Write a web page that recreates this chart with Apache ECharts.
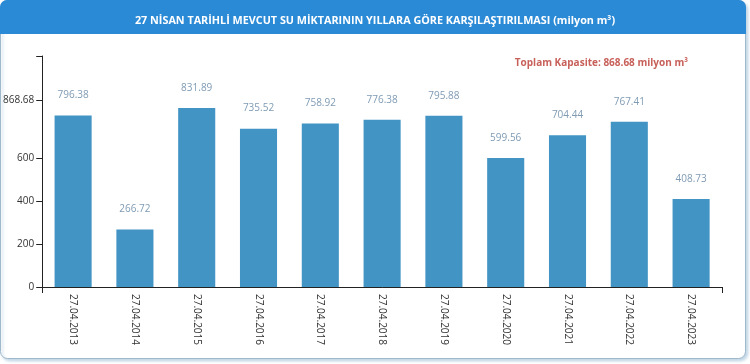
<!DOCTYPE html>
<html><head><meta charset="utf-8">
<script src="https://cdn.jsdelivr.net/npm/echarts@6/dist/echarts.min.js"></script>
<style>html,body{margin:0;padding:0;background:#fff;}#c{width:750px;height:364px;}</style>
</head><body><div id="c"></div>
<script>
const categories = ['27.04.2013','27.04.2014','27.04.2015','27.04.2016','27.04.2017','27.04.2018','27.04.2019','27.04.2020','27.04.2021','27.04.2022','27.04.2023'];
const values = [796.38, 266.72, 831.89, 735.52, 758.92, 776.38, 795.88, 599.56, 704.44, 767.41, 408.73];
const capacity = 868.68;
const yTickLabels = [0, 200, 400, 600, 868.68];
const yMax = 1073;
const titleText = '27 NİSAN TARİHLİ MEVCUT SU MİKTARININ YILLARA GÖRE KARŞILAŞTIRILMASI (milyon m³)';
const capacityText = 'Toplam Kapasite: 868.68 milyon m³';

const chart = echarts.init(document.getElementById('c'), null, {renderer:'canvas'});
const font = '"Open Sans", "Noto Sans", sans-serif';
chart.setOption({
  animation:false,
  textStyle:{fontFamily:font},
  graphic:[
    {type:'rect', z:-10, shape:{x:0.5,y:0.5,width:745,height:358,r:7}, style:{fill:'#fff', stroke:'#9fb8cc', lineWidth:1, shadowColor:'rgba(150,185,210,0.6)', shadowBlur:3, shadowOffsetX:2, shadowOffsetY:2}},
    {type:'rect', z:-9, shape:{x:0,y:0,width:746,height:34,r:[7,7,0,0]}, style:{fill:'#2b8ad6'}}
  ],
  title:[
    {text:titleText, left:'center', top:10, textStyle:{color:'#fff', fontSize:10.8, fontWeight:'bold', fontFamily:font}},
    {text:capacityText, right:57, top:53, textStyle:{color:'#c8605a', fontSize:10, fontWeight:'bold', fontFamily:font}}
  ],
  grid:{left:41, right:28, top:56, bottom:77, containLabel:false},
  xAxis:[{
    type:'category', data:categories, boundaryGap:true,
    axisLine:{lineStyle:{color:'#222', width:1}},
    axisTick:{alignWithLabel:true, length:5, lineStyle:{color:'#222'}},
    axisLabel:{rotate:-90, interval:0, color:'#333', fontSize:10, margin:7, fontFamily:font}
  },{
    type:'value', min:0, max:1, interval:1, position:'bottom',
    axisLine:{show:false}, axisLabel:{show:false}, splitLine:{show:false},
    axisTick:{show:true, length:6, lineStyle:{color:'#222'}}
  }],
  yAxis:{
    type:'value', min:0, max:yMax,
    axisLine:{show:true, lineStyle:{color:'#222'}},
    axisTick:{show:true, length:6, customValues:yTickLabels.concat([yMax]), lineStyle:{color:'#222'}},
    axisLabel:{customValues:yTickLabels, color:'#333', fontSize:10, margin:8, fontFamily:font, formatter:v=>String(v)},
    splitLine:{show:false}
  },
  series:[{
    type:'bar', data:values, xAxisIndex:0, barWidth:'60%',
    itemStyle:{color:'#4294c4'},
    label:{show:true, position:'top', distance:15, color:'#7f9bb4', fontSize:10, fontFamily:font, formatter:p=>p.value.toFixed(2)}
  }]
});
</script></body></html>
